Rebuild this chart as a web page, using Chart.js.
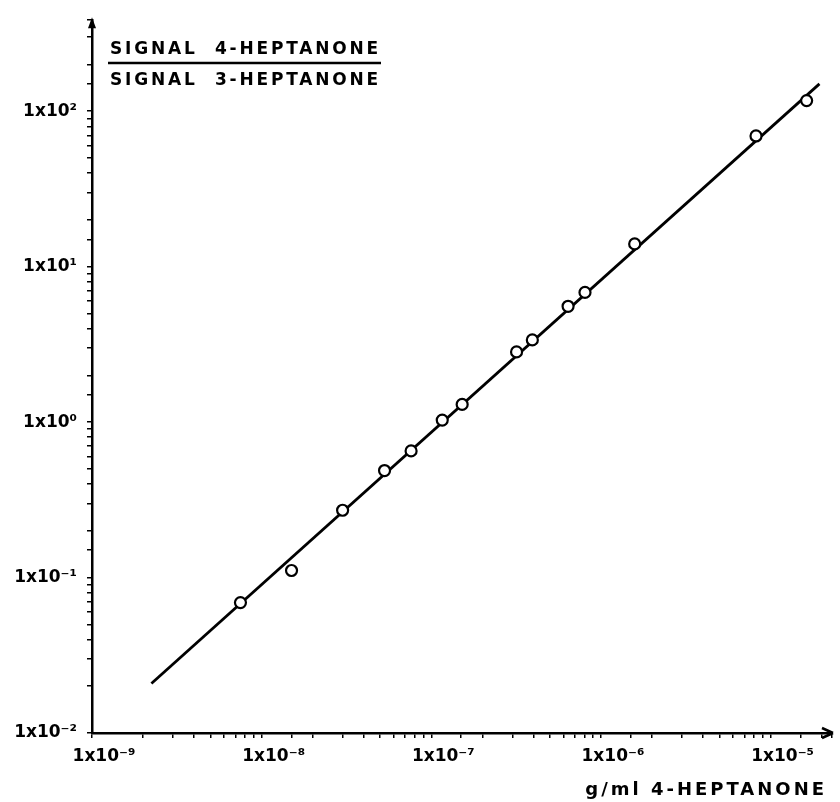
<!DOCTYPE html>
<html>
<head>
<meta charset="utf-8">
<script src="https://cdn.jsdelivr.net/npm/chart.js@4"></script>
<style>
    body{ margin:0; background:#fff; }
    #wrap{ width:840px; height:802px; position:relative; }
</style>
</head>
<body>
<div id="wrap"><canvas id="calChart" width="840" height="802"></canvas></div>
<script>
// g/ml 4-heptanone vs signal ratio
const concValues = [7.5e-9, 1.5e-8, 3.0e-8, 5.3e-8, 7.6e-8, 1.16e-7, 1.52e-7, 3.18e-7, 3.94e-7, 6.4e-7, 8.05e-7, 1.58e-6, 8.2e-6, 1.63e-5]
const ratioValues = [0.069, 0.111, 0.271, 0.488, 0.653, 1.03, 1.30, 2.83, 3.38, 5.56, 6.83, 14.0, 69.3, 117]
// fitted straight line, end points
const fitConc = [2.24e-9, 1.94e-5]
const fitRatio = [0.0208, 150]

const yLabelTop = "SIGNAL  4-HEPTANONE"
const yLabelBottom = "SIGNAL  3-HEPTANONE"
const xLabel = "g/ml 4-HEPTANONE"

const sup = { "-":"⁻", "0":"⁰", "1":"¹", "2":"²", "3":"³", "4":"⁴", "5":"⁵", "6":"⁶", "7":"⁷", "8":"⁸", "9":"⁹" }
function powLabel(val){
    const e = Math.log10(val)
    if(Math.abs(e - Math.round(e)) > 1e-6) return ""
    return "1x10" + String(Math.round(e)).split("").map(c => sup[c]).join("")
}

const FONT = "'DejaVu Sans', sans-serif"

// arrows + free texts
const extras = {
    id: "extras",
    afterDraw(chart){
        const ctx = chart.ctx
        const a = chart.chartArea
        ctx.save()
        ctx.fillStyle = "#000"
        ctx.strokeStyle = "#000"
        // y arrow
        ctx.beginPath()
        ctx.moveTo(a.left, a.top - 3)
        ctx.lineTo(a.left - 4, a.top + 8)
        ctx.lineTo(a.left + 4, a.top + 8)
        ctx.closePath()
        ctx.fill()
        // x arrow
        ctx.beginPath()
        ctx.moveTo(a.right + 1, a.bottom)
        ctx.lineTo(a.right - 10, a.bottom - 5)
        ctx.moveTo(a.right + 1, a.bottom)
        ctx.lineTo(a.right - 10, a.bottom + 5)
        ctx.lineWidth = 2.5
        ctx.stroke()

        ctx.font = "bold 17px " + FONT
        ctx.letterSpacing = "2.8px"
        ctx.textBaseline = "middle"
        ctx.textAlign = "left"
        ctx.fillText(yLabelTop, 110, 50)
        ctx.fillText(yLabelBottom, 110, 81)
        ctx.beginPath()
        ctx.moveTo(108, 63)
        ctx.lineTo(381, 63)
        ctx.lineWidth = 2.5
        ctx.stroke()

        ctx.font = "bold 18px " + FONT
        ctx.letterSpacing = "3px"
        ctx.textAlign = "right"
        ctx.fillText(xLabel, 827, 790)
        ctx.restore()
    }
}

new Chart(document.getElementById("calChart"), {
    type: "scatter",
    data: {
        datasets: [
            {
                label: "measured",
                data: concValues.map((x, i) => ({ x, y: ratioValues[i] })),
                pointRadius: 5.5,
                pointBorderWidth: 2.2,
                pointBorderColor: "#000",
                pointBackgroundColor: "#fff",
                showLine: false,
                order: 0
            },
            {
                label: "fit",
                data: fitConc.map((x, i) => ({ x, y: fitRatio[i] })),
                showLine: true,
                borderColor: "#000",
                borderWidth: 2.8,
                pointRadius: 0,
                order: 1
            }
        ]
    },
    options: {
        responsive: false,
        animation: false,
        layout: { padding: { top: 13, right: 2, left: 0, bottom: 0 } },
        plugins: { legend: { display: false }, tooltip: { enabled: false } },
        scales: {
            x: {
                type: "logarithmic",
                min: 1e-9,
                max: 2.3e-5,
                border: { color: "#000", width: 2.5 },
                grid: { drawOnChartArea: false, color: "#000", tickLength: 5, lineWidth: 1.5 },
                ticks: {
                    autoSkip: false, maxRotation: 0, padding: 8, labelOffset: 12,
                    color: "#000", font: { family: FONT, size: 17, weight: "bold" },
                    callback: (val) => powLabel(val)
                },
                afterFit: (s) => { s.height = 69 }
            },
            y: {
                type: "logarithmic",
                min: 1e-2,
                max: 385,
                border: { color: "#000", width: 2.5 },
                grid: { drawOnChartArea: false, color: "#000", tickLength: 5, lineWidth: 1.5 },
                ticks: {
                    autoSkip: false, padding: 10,
                    color: "#000", font: { family: FONT, size: 17, weight: "bold" },
                    callback: (val) => powLabel(val)
                },
                afterFit: (s) => { s.width = 92 }
            }
        }
    },
    plugins: [extras]
})
</script>
</body>
</html>
